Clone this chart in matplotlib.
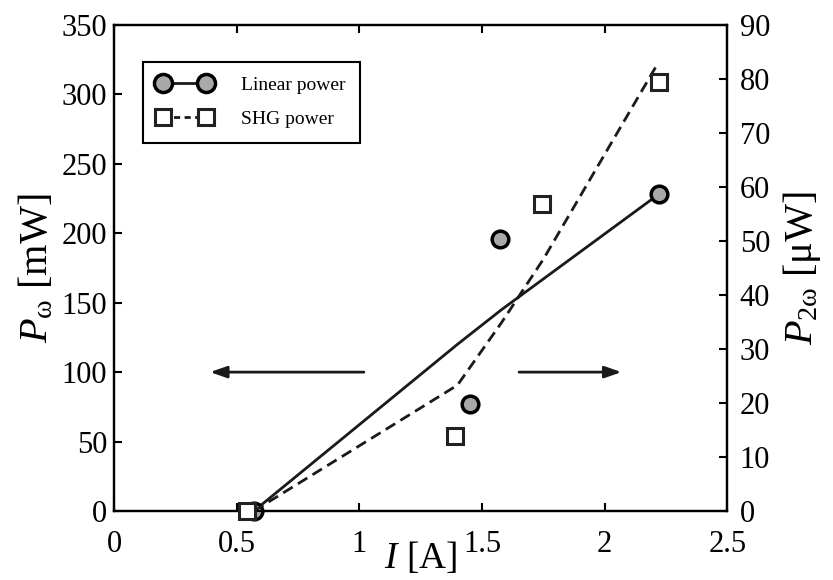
import matplotlib
matplotlib.use("Agg")
import matplotlib.pyplot as plt
from matplotlib.lines import Line2D

plt.rcParams['font.family'] = ['Liberation Serif', 'DejaVu Serif']
plt.rcParams['mathtext.fontset'] = 'custom'
plt.rcParams['mathtext.rm'] = 'Liberation Serif'
plt.rcParams['mathtext.it'] = 'Liberation Serif:italic'
plt.rcParams['mathtext.bf'] = 'Liberation Serif:bold'

# Data
lin_x = [0.57, 1.45, 1.575, 2.22]
lin_y = [0, 77, 196, 228]          # mW (left axis)
shg_x = [0.54, 1.39, 1.745, 2.22]
shg_y = [0, 13.9, 56.8, 79.4]      # uW (right axis)

lin_fit_x = [0.57, 1.40, 1.58, 2.22]
lin_fit_y = [0, 120, 145, 228]
shg_fit_x = [0.57, 1.40, 1.58, 1.75, 2.22]
shg_fit_y = [0, 23.3, 34.9, 46.6, 83.1]

xticks = [0, 0.5, 1, 1.5, 2, 2.5]
xticklabels = ['0', '0.5', '1', '1.5', '2', '2.5']
lticks = [0, 50, 100, 150, 200, 250, 300, 350]
rticks = [0, 10, 20, 30, 40, 50, 60, 70, 80, 90]

fig = plt.figure(figsize=(8.33, 5.80), dpi=100)
ax = fig.add_axes([0.137, 0.119, 0.736, 0.838])
ax2 = ax.twinx()

ax.set_xlim(0, 2.5)
ax.set_ylim(0, 350)
ax2.set_ylim(0, 90)

# lines (below markers)
ax.plot(lin_fit_x, lin_fit_y, '-', color='#1a1a1a', lw=2.0, zorder=2)
ax2.plot(shg_fit_x, shg_fit_y, '--', color='#1a1a1a', lw=2.0, dashes=(4, 2.2), zorder=2)

ax.plot(lin_x, lin_y, 'o', ms=12, mfc='#a9a9a9', mec='black', mew=2.5, ls='none', zorder=3, clip_on=False)
ax2.plot(shg_x, shg_y, 's', ms=11, mfc='white', mec='#222222', mew=2.2, ls='none', zorder=4, clip_on=False)

# arrows
ax.annotate('', xy=(0.38, 100), xytext=(1.03, 100),
            arrowprops=dict(arrowstyle='-|>,head_length=1.0,head_width=0.35', color='#1a1a1a', lw=2))
ax.annotate('', xy=(2.08, 100), xytext=(1.64, 100),
            arrowprops=dict(arrowstyle='-|>,head_length=1.0,head_width=0.35', color='#1a1a1a', lw=2))

ax.set_xticks(xticks)
ax.set_xticklabels(xticklabels)
ax.set_yticks(lticks)
ax2.set_yticks(rticks)

for a in (ax, ax2):
    for s in a.spines.values():
        s.set_linewidth(1.6)
ax.tick_params(axis='both', direction='in', length=6, width=1.5, labelsize=22, top=True)
ax.tick_params(axis='x', pad=14)
ax.tick_params(axis='y', pad=5)
ax2.tick_params(axis='y', direction='in', length=6, width=1.5, labelsize=22, pad=9)

ax.set_xlabel(r'$I$ [A]', fontsize=27, labelpad=-14)
ax.set_ylabel(r'$P_{\mathrm{ω}}$ [mW]', fontsize=29, labelpad=4)
ax2.set_ylabel(r'$P_{\mathrm{2ω}}$ [μW]', fontsize=29, labelpad=8)

h1 = Line2D([], [], ls='-', color='#1a1a1a', lw=2, marker='o', ms=13,
            mfc='#a9a9a9', mec='black', mew=2.5)
h2 = Line2D([], [], ls='--', color='#1a1a1a', lw=2, dashes=(2.2, 1.6), marker='s', ms=12,
            mfc='white', mec='#222222', mew=2.2)
leg = ax.legend([h1, h2], ['Linear power', 'SHG power'], loc='upper left',
                bbox_to_anchor=(0.047, 0.924), borderaxespad=0, fontsize=14,
                numpoints=2, fancybox=False, framealpha=1, edgecolor='black',
                handlelength=2.8, borderpad=0.75, labelspacing=0.85, handletextpad=1.5)
leg.get_frame().set_linewidth(1.5)

fig.savefig('out.png', dpi=100)
